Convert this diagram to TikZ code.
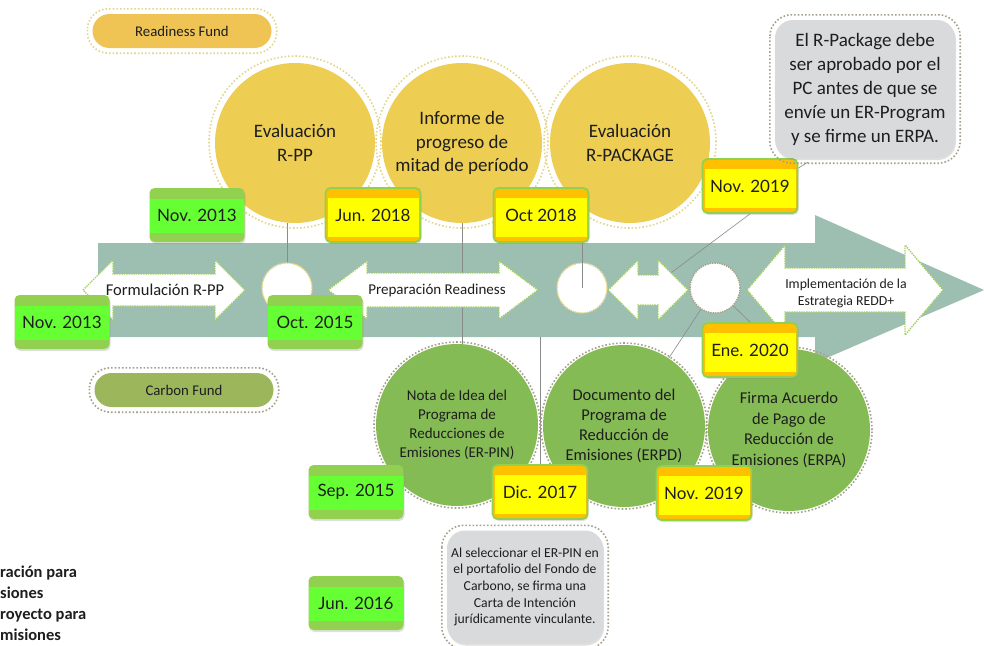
\documentclass[tikz,border=0pt]{standalone}
\usepackage{fontspec}
\setmainfont{Carlito}
\newfontfamily\datefont{Lato}
\usetikzlibrary{backgrounds,shadows}
\definecolor{bandgray}{HTML}{9DBFB1}
\definecolor{rfyellow}{HTML}{EDCD52}
\definecolor{rfbox}{HTML}{EFC455}
\definecolor{cfgreen}{HTML}{85BB55}
\definecolor{cfbox}{HTML}{9CB65C}
\definecolor{dategreen}{HTML}{92D050}
\definecolor{datelime}{HTML}{66FF33}
\definecolor{dateorange}{HTML}{FFC000}
\definecolor{dateyellow}{HTML}{FFFF00}
\definecolor{notegray}{HTML}{D9DADC}
\definecolor{dotgreen}{HTML}{A4CF62}
\definecolor{dotyellow}{HTML}{E3D68C}
\definecolor{dotgray}{HTML}{A6A08A}
\definecolor{linkgray}{HTML}{8A8A8A}
\definecolor{ink}{HTML}{1E1E1E}
\begin{document}
\begin{tikzpicture}[x=1pt,y=-1pt,
	link/.style={linkgray,line width=.6pt},
	ring/.style={draw=#1,line width=1.6pt,dotted},
	warrow/.style={fill=white,draw=dotgreen,line width=1.4pt,densely dotted},
	wcircle/.style={circle,fill=white,draw=#1,line width=1.4pt,densely dotted,minimum size=50pt,inner sep=0pt},
	rcircle/.style={circle,fill=rfyellow,minimum size=160pt,inner sep=0pt,align=center,text=ink,font=\fontsize{19}{23.5}\selectfont},
	ccircle/.style={circle,fill=cfgreen,minimum size=162pt,inner sep=0pt,align=center,text=ink},
	fund/.style={rounded corners=17pt,minimum width=179pt,minimum height=34pt,inner sep=0pt,text=ink,font=\fontsize{14.8}{15}\selectfont},
	bandtext/.style={inner sep=0pt,align=center,text=ink},
	note/.style={rounded corners=18pt,fill=notegray,align=center,text=ink,inner sep=0pt,drop shadow={opacity=.25,shadow xshift=1pt,shadow yshift=-2pt}},
	gdate/.style={rounded corners=5pt,fill=dategreen,minimum width=95pt,minimum height=54pt,inner sep=0pt,
		font=\datefont\fontsize{17}{17}\selectfont,text=ink,drop shadow={opacity=.25,shadow xshift=1pt,shadow yshift=-2pt},
		path picture={\fill[datelime,sharp corners] ([yshift=-11pt]path picture bounding box.north west) rectangle ([yshift=9pt]path picture bounding box.south east);}},
	ydate/.style={gdate,fill=dateorange,draw=dategreen,line width=1.8pt,
		path picture={\fill[dateyellow,sharp corners] ([xshift=2pt,yshift=-10pt]path picture bounding box.north west) rectangle ([xshift=-2pt,yshift=5pt]path picture bounding box.south east);}},
]
	\useasboundingbox (0,0) rectangle (984,645);
	\def\cy{290}
	% white arrows on the band
	\foreach \n/\xl/\xr/\hl/\bh/\hh in {formu/83/245/30/16/30,prep/328/538/39/17/29,mid/608/688/30/15/30,impl/747/943/38/22/45}{
		\draw[warrow] (\xl,\cy) -- ++(\hl,-\hh) -- ++(0,\hh-\bh) -- (\xr-\hl,\cy-\bh) -- ++(0,\bh-\hh) -- (\xr,\cy) -- ++(-\hl,\hh) -- ++(0,\bh-\hh) -- (\xl+\hl,\cy+\bh) -- ++(0,\hh-\bh) -- cycle;
		\coordinate (\n) at ({(\xl+\xr)/2},\cy);
	}
	\node[bandtext,font=\fontsize{16.5}{17}\selectfont] (tformu) at (165,\cy) {Formulación R-PP};
	\node[bandtext,font=\fontsize{15}{16}\selectfont] (tprep) at (437,\cy) {Preparación Readiness};
	\node[bandtext,font=\fontsize{13.8}{17}\selectfont] (timpl) at (846,293) {Implementación de la\\Estrategia REDD+};
	% milestones on the band
	\foreach \n/\x/\col in {c1/287/dotyellow,c2/582/dotyellow,c3/715/dotgray}
		\node[wcircle=\col] (\n) at (\x,288) {};
	% readiness fund
	\foreach \n/\x/\txt in {evrpp/295/{Evaluación\\R-PP},informe/462/{Informe de\\progreso de\\mitad de período},evpack/630/{Evaluación\\R-PACKAGE}}{
		\draw[ring=dotyellow] (\x,142) circle (86pt);
		\node[rcircle] (\n) at (\x,143) {\txt};
	}
	% carbon fund
	\foreach \n/\x/\y/\fs/\ls/\txt in {erpin/457/425/15/19/{Nota de Idea del\\Programa de\\Reducciones de\\Emisiones (ER-PIN)},erpd/624/426/16.5/20/{Documento del\\Programa de\\Reducción de\\Emisiones (ERPD)},erpa/789/430/16.5/20.5/{Firma Acuerdo\\de Pago de\\Reducción de\\Emisiones (ERPA)}}{
		\draw[ring=dotgray] (\x,\y) circle (83pt);
		\node[ccircle,font=\fontsize{\fs}{\ls}\selectfont] (\n) at (\x,\y) {\txt};
	}
	% fund labels
	\node[fund,fill=rfbox] (rfund) at (182,31) {Readiness Fund};
	\node[fund,fill=cfbox] (cfund) at (184,390) {Carbon Fund};
	\foreach \n/\col in {rfund/dotyellow,cfund/dotgray}
		\draw[ring=\col,rounded corners=21pt] ([shift={(-5pt,5pt)}]\n.north west) rectangle ([shift={(5pt,-5pt)}]\n.south east);
	% dates
	\foreach \n/\x/\y/\txt in {nov13a/197/215/Nov. 2013,nov13b/62/322/Nov. 2013,oct15/315/322/Oct. 2015,sep15/356/492/Sep. 2015,jun16/356/603/Jun. 2016}
		\node[gdate] (\n) at (\x,\y) {\txt};
	\foreach \n/\x/\y/\txt in {jun18/373/215/Jun. 2018,oct18/541/215/Oct 2018,nov19a/750/186/Nov. 2019,ene20/750/350/Ene. 2020,dic17/540/492/Dic. 2017,nov19b/704/493/Nov. 2019}
		\node[ydate] (\n) at (\x,\y) {\txt};
	% notes
	\node[note,minimum width=180pt,minimum height=138pt,font=\fontsize{19}{24}\selectfont] (rpack) at (865,89) {El R-Package debe\\ser aprobado por el\\PC antes de que se\\envíe un ER-Program\\y se firme un ERPA.};
	\node[note,minimum width=156pt,minimum height=113pt,font=\fontsize{13.7}{16.7}\selectfont] (pinnote) at (525,587) {Al seleccionar el ER-PIN en\\el portafolio del Fondo de\\Carbono, se firma una\\Carta de Intención\\jurídicamente vinculante.};
	\foreach \n in {rpack,pinnote}
		\draw[ring=dotgray,rounded corners=22pt] ([shift={(-5pt,5pt)}]\n.north west) rectangle ([shift={(5pt,-5pt)}]\n.south east);
	\node[anchor=north west,inner sep=0pt,align=left,text=ink,font=\bfseries\fontsize{16.5}{21}\selectfont] (cuttext) at (0,566) {ración para\\siones\\royecto para\\misiones};
	% links on top
	\draw[link] (c2 |- oct18.south) -- (c2.center);
	\draw[link] (c3) -- (ene20.north);
	\draw[link] ([xshift=33pt,yshift=-4pt]rpack.south west) -- ([yshift=-10pt]nov19a.north east);
	% band and links behind
	\begin{scope}[on background layer]
		\fill[bandgray] (98,243) -- (815,243) -- (815,215) -- (984,\cy) -- (815,363) -- (815,337) -- (98,337) -- cycle;
		\draw[link] (c1.north) -- (c1.north |- evrpp.south);
		\draw[link] (informe.south) -- (informe.south |- erpin.north);
		\draw[link] (nov19a.south) -- (mid);
		\draw[link] (c3) -- (erpd);
		\draw[link] (dic17.north) -- (dic17.north |- 0,337);
	\end{scope}
\end{tikzpicture}
\end{document}
